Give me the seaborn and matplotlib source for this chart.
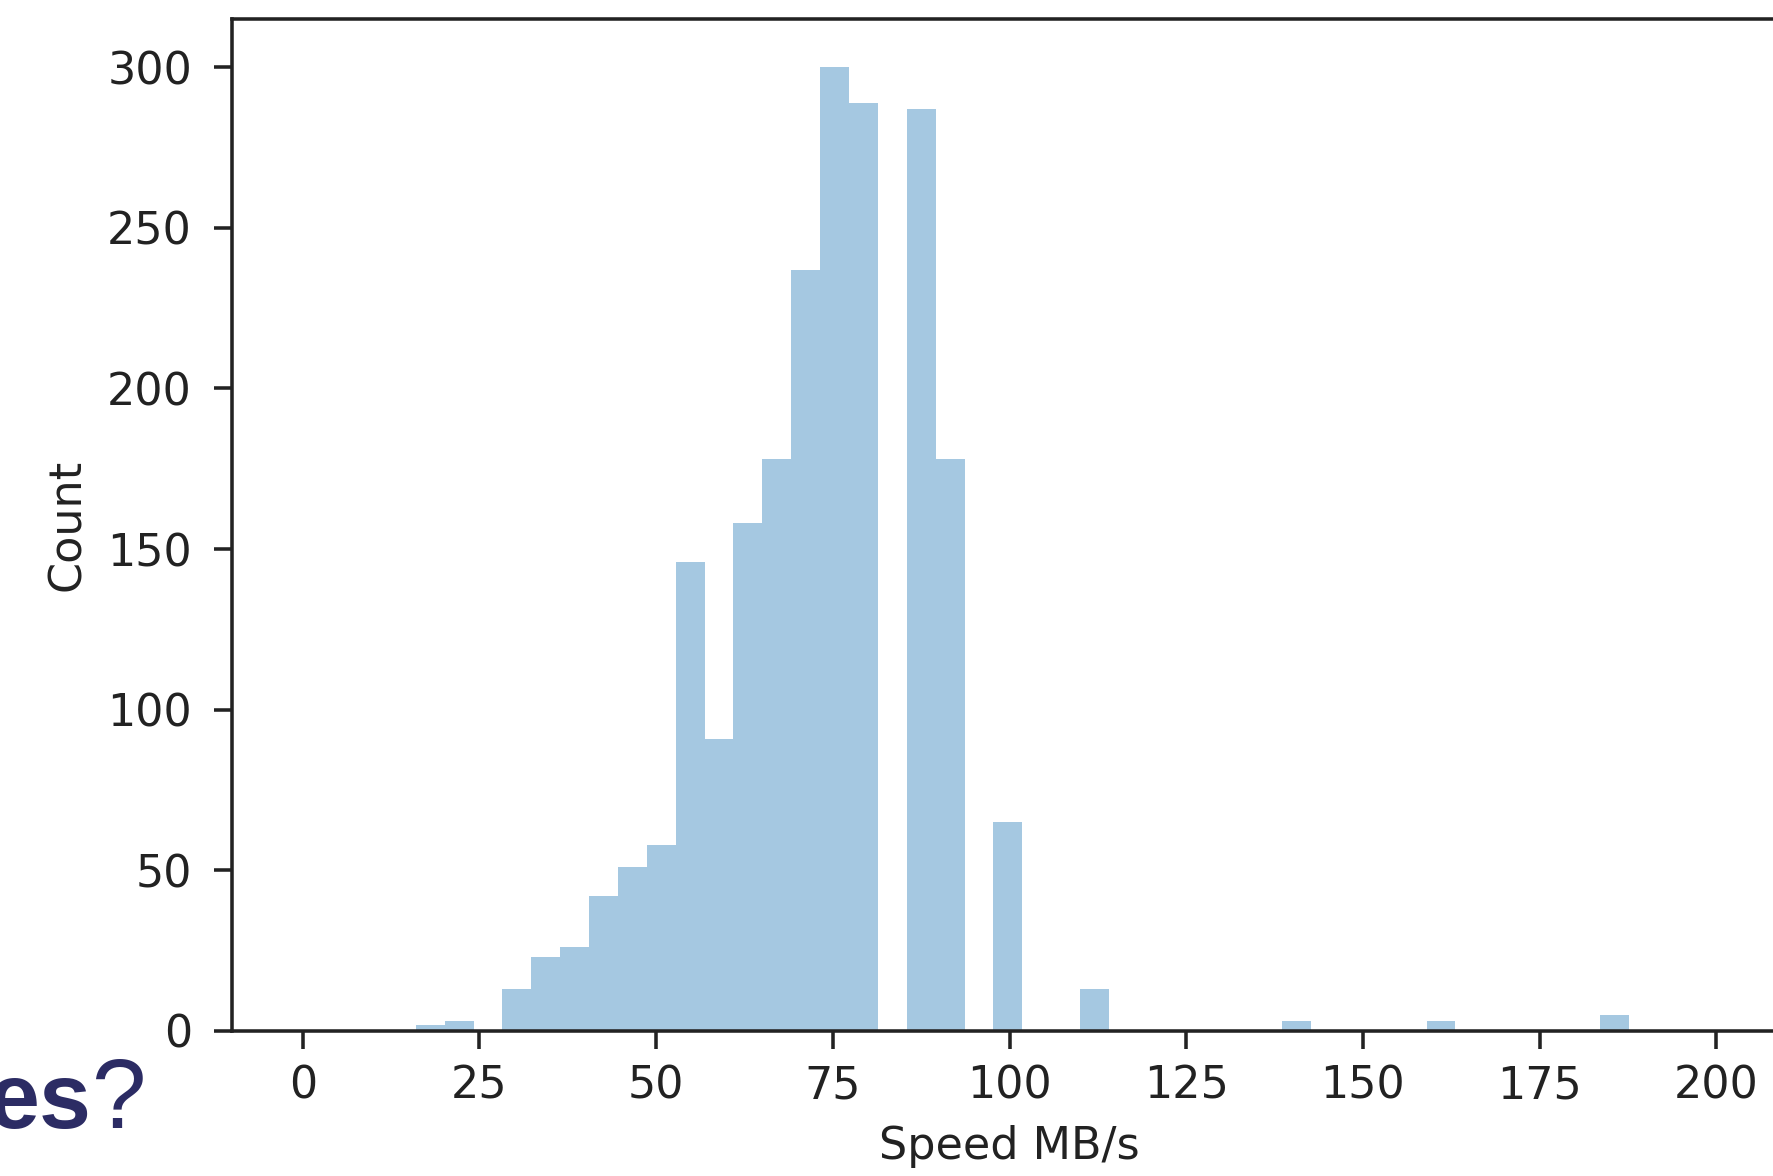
import matplotlib
matplotlib.use("Agg")
import matplotlib.pyplot as plt
import seaborn as sns

# bar midpoints (MB/s) and counts
speed_mid = [18.0, 22.1, 30.3, 34.4, 38.5, 42.6, 46.6, 50.7, 54.8, 58.9, 63.0,
             67.1, 71.2, 75.3, 79.3, 87.5, 91.6, 99.7, 112.0, 140.6, 161.1, 185.6]
counts = [2, 3, 13, 23, 26, 42, 51, 58, 146, 91, 158,
          178, 237, 300, 289, 287, 178, 65, 13, 3, 3, 5]
bin_range = (16.0, 187.6)
n_bins = 42
x_ticks = [0, 25, 50, 75, 100, 125, 150, 175, 200]
y_ticks = [0, 50, 100, 150, 200, 250, 300]

plt.rcParams["font.family"] = ["DejaVu Sans"]
plt.rcParams["font.size"] = 10

dpi = 320
fig = plt.figure(figsize=(1773 / dpi, 1176 / dpi), dpi=dpi)
# axes runs past the right edge, like the cropped screenshot
ax = fig.add_axes([0.1309, 0.1233, 0.877, 0.8605])

sns.histplot(x=speed_mid, weights=counts, bins=n_bins, binrange=bin_range,
             color="#1f77b4", alpha=0.4, linewidth=0, ax=ax)

ax.set_xlim(-10, 210)
ax.set_ylim(0, 315)
ax.set_xticks(x_ticks)
ax.set_yticks(y_ticks)
ax.tick_params(axis="both", length=4, width=0.8, labelsize=10, colors="#222222")
ax.tick_params(axis="y", pad=5)
for s in ax.spines.values():
    s.set_linewidth(0.8)
    s.set_color("#222222")
ax.set_xlabel("Speed MB/s", color="#222222")
ax.set_ylabel("Count", color="#222222")

# leftover slide title peeking in at the bottom left (cut by the crop)
fig.text(91 / 1773, 1 - 1128 / 1176, "es", fontsize=21, fontweight="bold",
         color="#2c2c64", ha="right", va="baseline", family="Liberation Sans")
fig.text(91 / 1773, 1 - 1128 / 1176, "?", fontsize=22,
         color="#2c2c64", ha="left", va="baseline", family="Liberation Sans")

fig.savefig("out.png", dpi=dpi)
